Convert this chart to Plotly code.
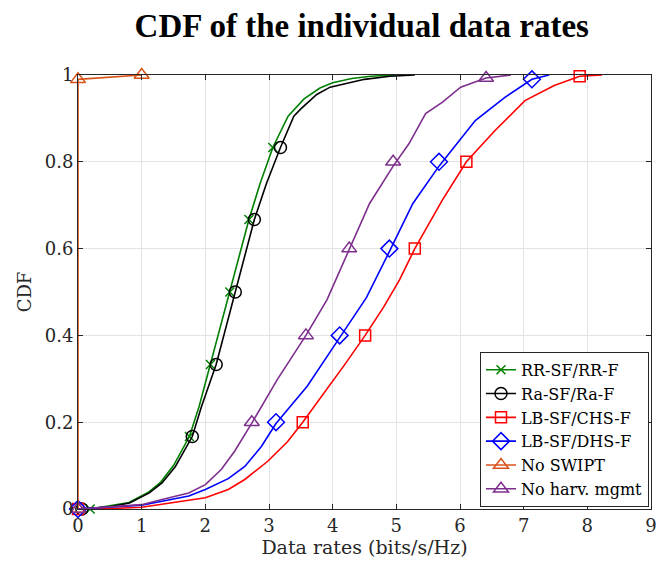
import plotly.graph_objects as go

# ---------------- data ----------------
rr_x = [0.19, 0.8, 1.1, 1.3, 1.5, 1.75, 1.9, 2.08, 2.24, 2.385, 2.53, 2.685, 2.86, 3.06, 3.3, 3.55, 3.8, 4.0, 4.3, 4.6, 5.0]
rr_y = [0.0, 0.015, 0.038, 0.062, 0.1, 0.167, 0.235, 0.333, 0.42, 0.5, 0.583, 0.667, 0.75, 0.833, 0.905, 0.945, 0.97, 0.982, 0.992, 0.997, 1.0]
rr_mx = [0.19, 1.75, 2.08, 2.385, 2.685, 3.06]
rr_my = [0.0, 0.167, 0.333, 0.5, 0.667, 0.833]

ra_x = [0.06, 0.5, 0.81, 1.12, 1.32, 1.53, 1.795, 1.94, 2.17, 2.32, 2.47, 2.62, 2.77, 2.96, 3.18, 3.39, 3.5, 3.75, 3.96, 4.5, 4.9, 5.29]
ra_y = [0.0, 0.005, 0.014, 0.037, 0.06, 0.098, 0.167, 0.236, 0.333, 0.415, 0.5, 0.583, 0.667, 0.75, 0.833, 0.905, 0.922, 0.955, 0.972, 0.99, 0.997, 1.0]
ra_mx = [0.06, 1.795, 2.17, 2.47, 2.77, 3.18]
ra_my = [0.0, 0.167, 0.333, 0.5, 0.667, 0.833]

chs_x = [0.0, 0.5, 1.0, 1.48, 2.0, 2.36, 2.62, 2.98, 3.29, 3.53, 3.91, 4.2, 4.51, 4.8, 5.05, 5.29, 5.72, 6.1, 6.55, 7.02, 7.48, 7.88, 8.23]
chs_y = [0.0, 0.001, 0.004, 0.014, 0.026, 0.045, 0.068, 0.11, 0.155, 0.2, 0.275, 0.335, 0.4, 0.465, 0.528, 0.6, 0.711, 0.8, 0.872, 0.941, 0.976, 0.997, 1.0]
chs_mx = [0.0, 3.53, 4.51, 5.29, 6.1, 7.88]
chs_my = [0.0, 0.2, 0.4, 0.6, 0.8, 0.997]

dhs_x = [0.0, 1.0, 1.32, 1.74, 2.0, 2.36, 2.62, 2.88, 3.11, 3.6, 4.11, 4.53, 4.89, 5.26, 5.67, 6.24, 6.71, 7.13, 7.4]
dhs_y = [0.0, 0.009, 0.018, 0.03, 0.045, 0.07, 0.098, 0.144, 0.197, 0.283, 0.395, 0.487, 0.593, 0.704, 0.79, 0.895, 0.949, 0.99, 1.0]
dhs_mx = [0.0, 3.11, 4.11, 4.89, 5.67, 7.13]
dhs_my = [0.0, 0.2, 0.4, 0.6, 0.8, 0.99]

nos_x = [0.0, 0.0, 1.0]
nos_y = [0.0, 0.99, 1.0]

nhm_x = [0.0, 1.0, 1.32, 1.74, 2.0, 2.25, 2.46, 2.73, 3.13, 3.58, 3.91, 4.26, 4.58, 4.95, 5.2, 5.46, 5.72, 6.01, 6.41, 6.8]
nhm_y = [0.0, 0.01, 0.022, 0.037, 0.056, 0.091, 0.133, 0.198, 0.298, 0.4, 0.482, 0.6, 0.704, 0.79, 0.842, 0.911, 0.937, 0.972, 0.993, 1.0]
nhm_mx = [0.0, 2.73, 3.58, 4.26, 4.95, 6.41]
nhm_my = [0.0, 0.2, 0.4, 0.6, 0.8, 0.993]

x_ticks = [0, 1, 2, 3, 4, 5, 6, 7, 8, 9]
y_ticks = [0, 0.2, 0.4, 0.6, 0.8, 1]
y_ticklabels = ["0", "0.2", "0.4", "0.6", "0.8", "1"]

# ---------------- styling ----------------
FONT = "DejaVu Serif"
TFONT = "Liberation Serif"
series = [
    ("RR-SF/RR-F", rr_x, rr_y, rr_mx, rr_my, "#008000", "x-thin", 9),
    ("Ra-SF/Ra-F", ra_x, ra_y, ra_mx, ra_my, "#000000", "circle-open", 12),
    ("LB-SF/CHS-F", chs_x, chs_y, chs_mx, chs_my, "#FF0000", "square-open", 11),
    ("LB-SF/DHS-F", dhs_x, dhs_y, dhs_mx, dhs_my, "#0000FF", "diamond-open", 13),
    ("No SWIPT", nos_x, nos_y, nos_x, nos_y, "#D95319", "triangle-up-open", 13),
    ("No harv. mgmt", nhm_x, nhm_y, nhm_mx, nhm_my, "#7E2F8E", "triangle-up-open", 13),
]

fig = go.Figure()
for name, x, y, mx, my, col, sym, sz in series:
    fig.add_trace(go.Scatter(x=x, y=y, mode="lines", line=dict(color=col, width=1.6),
                             showlegend=False, cliponaxis=False, hoverinfo="skip"))
    fig.add_trace(go.Scatter(x=mx, y=my, mode="markers",
                             marker=dict(symbol=sym, size=sz, color=col, line=dict(color=col, width=1.5)),
                             showlegend=False, cliponaxis=False))
for name, x, y, mx, my, col, sym, sz in series:
    fig.add_trace(go.Scatter(x=[None], y=[None], mode="lines+markers", name=name,
                             line=dict(color=col, width=1.6),
                             marker=dict(symbol=sym, size=sz, color=col, line=dict(color=col, width=1.5))))

axis_common = dict(showline=True, linecolor="#262626", linewidth=1, mirror="ticks",
                   ticks="inside", ticklen=5, tickcolor="#262626",
                   showgrid=True, gridcolor="#E3E3E3", gridwidth=1, zeroline=False,
                   tickfont=dict(family=FONT, size=18, color="#262626"))

fig.update_layout(
    width=665, height=569,
    margin=dict(l=78, r=8, t=75, b=60),
    paper_bgcolor="white", plot_bgcolor="white",
    title=dict(text="<b>CDF of the individual data rates</b>", x=0.544, xanchor="center",
               y=0.955, yanchor="middle", font=dict(family=TFONT, size=33, color="black")),
    xaxis=dict(range=[0, 9], tickvals=x_ticks, title=dict(text="Data rates (bits/s/Hz)", standoff=5,
               font=dict(family=FONT, size=19, color="#262626")), **axis_common),
    yaxis=dict(range=[0, 1], tickvals=y_ticks, ticktext=y_ticklabels,
               title=dict(text="CDF", standoff=8, font=dict(family=FONT, size=18, color="#262626")),
               **axis_common),
    legend=dict(x=0.9965, y=0.005, xanchor="right", yanchor="bottom",
                bgcolor="white", bordercolor="#262626", borderwidth=1,
                font=dict(family=FONT, size=16, color="black"), itemwidth=30,
                tracegroupgap=0),
    showlegend=True,
)

fig.write_html("out.html")
